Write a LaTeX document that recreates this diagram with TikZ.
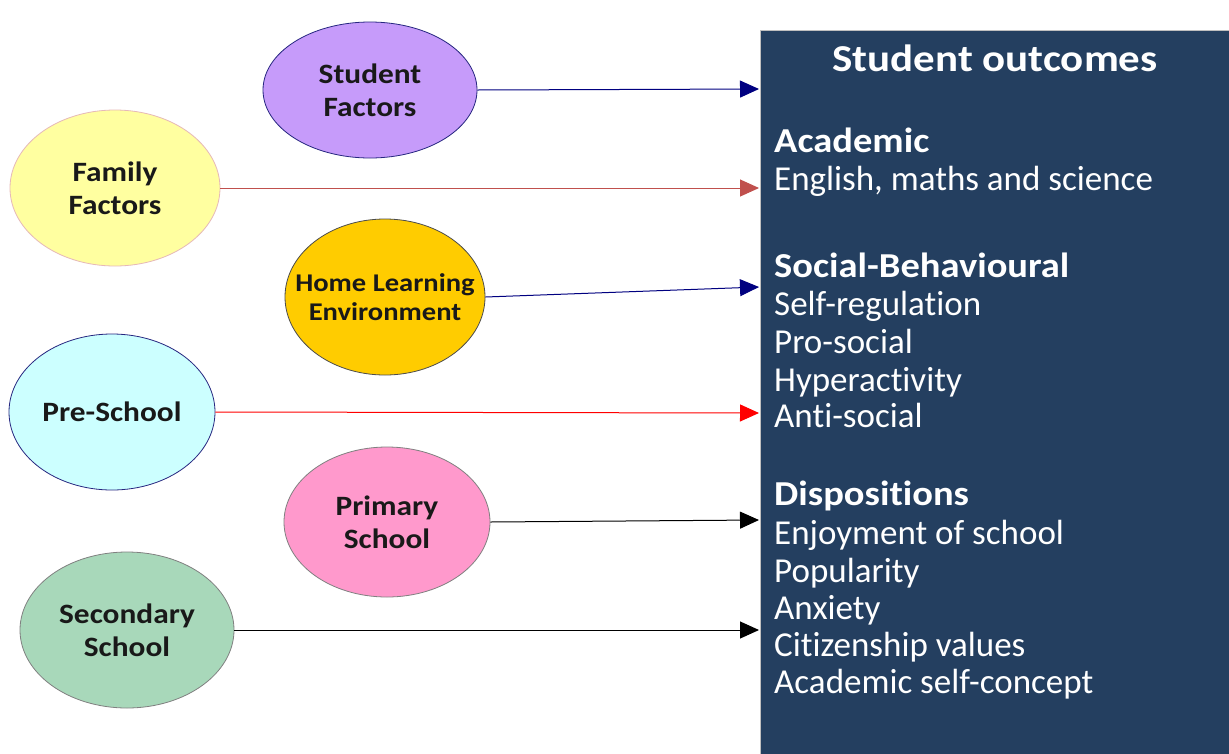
\documentclass[tikz,border=0pt]{standalone}
\usepackage{fontspec}
\setmainfont{Carlito}[Ligatures=CommonOff]
\usetikzlibrary{shapes.geometric,arrows.meta}
\definecolor{boxblue}{RGB}{36,63,96}
\definecolor{cstudent}{RGB}{198,155,250}
\definecolor{cfamily}{RGB}{255,255,160}
\definecolor{chome}{RGB}{255,204,0}
\definecolor{cpre}{RGB}{204,255,255}
\definecolor{cprimary}{RGB}{255,153,204}
\definecolor{csecondary}{RGB}{168,216,186}
\definecolor{anavy}{RGB}{0,0,128}
\definecolor{ared}{RGB}{192,80,77}
\definecolor{abright}{RGB}{255,0,0}
\newcommand{\hwide}[1]{\scalebox{1.12}[1]{#1}}
\newcommand{\hwidehd}[1]{\scalebox{1.10}[1]{#1}}
\newcommand{\hwidetl}[1]{\scalebox{1.13}[1]{#1}}
\tikzset{
  factor/.style={ellipse, draw=#1, line width=0.8pt, inner sep=0pt},
  factortext/.style={inner sep=0pt, align=center, text=black!90,
    font=\fontsize{28}{33}\selectfont\bfseries},
  link/.style={draw=#1, line width=1pt, -{Triangle[length=19pt,width=17pt]}},
  outtitle/.style={anchor=base, text=white, inner sep=0pt, font=\fontsize{38}{42}\selectfont\bfseries},
  outhead/.style={anchor=base west, text=white, inner sep=0pt, font=\fontsize{35}{39}\selectfont\bfseries},
  outitem/.style={anchor=base west, text=white, inner sep=0pt, font=\fontsize{35}{39}\selectfont},
}
\begin{document}
\begin{tikzpicture}[x=1pt,y=-1pt]
\useasboundingbox (0,0) rectangle (1229,753);
\fill[white] (0,0) rectangle (1229,753);
% outcome box
\node[fill=boxblue, draw=gray!50, line width=0.6pt, anchor=north west, minimum width=470pt, minimum height=724pt, inner sep=0pt] (box) at (760,30) {};
\node[outtitle] (title) at (995,71) {\hwidetl{Student outcomes}};
\node[outhead] (acad) at (774,152) {\hwidehd{Academic}};
\node[outitem] (eng) at (774,190) {English, maths and science};
\node[outhead] (soc) at (774,277) {\hwidehd{Social-Behavioural}};
\node[outitem] (selfreg) at (774,315) {Self-regulation};
\node[outitem] (prosoc) at (774,353) {Pro-social};
\node[outitem] (hyper) at (774,391) {Hyperactivity};
\node[outitem] (antisoc) at (774,427) {Anti-social};
\node[outhead] (disp) at (774,505) {\hwidehd{Dispositions}};
\node[outitem] (enjoy) at (774,544) {Enjoyment of school};
\node[outitem] (popul) at (774,582) {Popularity};
\node[outitem] (anx) at (774,619) {Anxiety};
\node[outitem] (citiz) at (774,656) {Citizenship values};
\node[outitem] (selfcon) at (774,693) {Academic self-concept};
% factor ellipses
\node[factor=anavy!70!gray, fill=cstudent, minimum width=214pt, minimum height=136pt] (sf) at (370,90) {};
\node[factortext] (sft) at (sf.center) {\hwide{Student}\\\hwide{Factors}};
\node[factor=ared!40!white, fill=cfamily, minimum width=210pt, minimum height=156pt] (ff) at (115,188) {};
\node[factortext] (fft) at (ff.center) {\hwide{Family}\\\hwide{Factors}};
\node[factor=black!70, fill=chome, minimum width=200pt, minimum height=156pt] (hle) at (385,297) {};
\node[factortext, font=\fontsize{25.5}{29.5}\selectfont\bfseries] (hlet) at (hle.center) {\hwide{Home Learning}\\\hwide{Environment}};
\node[factor=anavy!70!gray, fill=cpre, minimum width=206pt, minimum height=156pt] (ps) at (112,412) {};
\node[factortext] (pst) at (ps.center) {\hwide{Pre-School}};
\node[factor=gray, fill=cprimary, minimum width=206pt, minimum height=150pt] (pri) at (387,522) {};
\node[factortext] (prit) at (pri.center) {\hwide{Primary}\\\hwide{School}};
\node[factor=gray, fill=csecondary, minimum width=214pt, minimum height=156pt] (sec) at (127,630) {};
\node[factortext] (sect) at (sec.center) {\hwide{Secondary}\\\hwide{School}};
% arrow end points on the box edge
\coordinate (e1) at (759,89);
\coordinate (e2) at (759,188);
\coordinate (e3) at (759,287);
\coordinate (e4) at (759,413);
\coordinate (e5) at (759,520);
\coordinate (e6) at (759,630);
\draw[link=anavy] (sf.east) -- (e1);
\draw[link=ared] (ff.east) -- (e2);
\draw[link=anavy] (hle.east) -- (e3);
\draw[link=abright] (ps.east) -- (e4);
\draw[link=black] (pri.east) -- (e5);
\draw[link=black] (sec.east) -- (e6);
\end{tikzpicture}
\end{document}
